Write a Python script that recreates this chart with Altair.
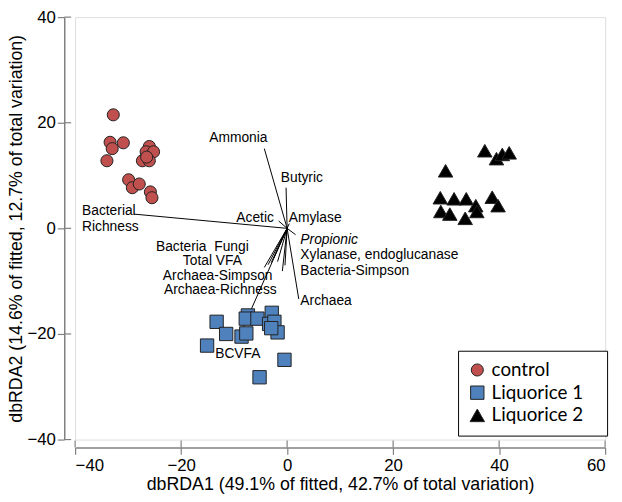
import altair as alt
import pandas as pd

# ---- sample scores (dbRDA1, dbRDA2) ----
ctrl_x = [-32.8, -33.4, -33.0, -30.9, -34.0, -26.0, -26.6, -25.2, -27.3, -26.0, -26.5, -29.9, -29.2, -27.9, -25.8, -25.5]
ctrl_y = [21.5, 16.3, 15.1, 16.2, 12.8, 15.5, 14.5, 14.5, 12.8, 12.8, 13.5, 9.2, 7.7, 8.4, 6.9, 5.8]
liq1_x = [-13.3, -11.5, -15.1, -8.6, -7.7, -7.4, -7.8, -5.6, -2.9, -3.4, -2.4, -1.8, -3.0, -0.5, -5.2]
liq1_y = [-17.7, -20.0, -22.2, -20.5, -19.9, -16.5, -17.1, -17.1, -16.0, -18.1, -17.7, -19.7, -18.9, -24.9, -28.2]
liq2_x = [37.3, 39.5, 40.6, 41.9, 29.9, 28.9, 31.5, 33.8, 35.6, 38.7, 39.8, 29.0, 30.7, 33.6, 35.8]
liq2_y = [14.7, 13.2, 14.0, 14.3, 10.9, 5.8, 5.6, 5.6, 4.3, 5.9, 4.3, 3.2, 2.7, 1.9, 3.2]

groups = ["control", "Liquorice 1", "Liquorice 2"]
group_colors = ["#C0504D", "#4F81BD", "#000000"]
group_shapes = ["circle", "square", "triangle-up"]
group_sizes = [150, 215, 230]

# ---- axis ticks ----
x_ticks = [-40, -20, 0, 20, 40, 60]
y_ticks = [-40, -20, 0, 20, 40]

# ---- vectors (end points) ----
vec_names = ["Bacterial Richness", "Ammonia", "Butyric", "Acetic", "Amylase", "Propionic",
             "Xylanase, endoglucanase", "Bacteria-Simpson", "Archaea", "Bacteria", "Fungi",
             "Total VFA", "Archaea-Simpson", "Archaea-Richness", "BCVFA"]
vec_x = [-28.9, -4.3, -0.2, -1.6, 0.4, 1.6, -0.9, -0.4, 2.2, -2.5, -1.8, -3.0, -4.3, -3.6, -9.1]
vec_y = [2.7, 15.1, 7.7, 1.4, 0.9, -1.2, -8.1, -7.0, -13.4, -5.6, -6.3, -6.5, -7.4, -6.9, -20.6]

# ---- vector labels ----
lab_text = ["Ammonia", "Butyric", "Bacterial", "Richness", "Acetic", "Amylase", "Propionic",
            "Xylanase, endoglucanase", "Bacteria-Simpson", "Archaea", "Bacteria\u00a0\u00a0Fungi",
            "Total VFA", "Archaea-Simpson", "Archaea-Richness", "BCVFA"]
lab_x = [-9.2, -1.2, -38.7, -38.7, -2.5, 0.3, 2.5, 2.5, 2.5, 2.5, -16.0, -14.1, -13.1, -12.6, -9.3]
lab_y = [17.1, 9.5, 3.3, 0.2, 2.0, 2.0, -2.2, -5.0, -8.0, -13.7, -3.5, -6.1, -9.1, -11.7, -23.9]
lab_align = ["center", "left", "left", "left", "right", "left", "left",
             "left", "left", "left", "center", "center", "center", "center", "center"]
lab_style = ["normal"] * 6 + ["italic"] + ["normal"] * 8

pts = pd.DataFrame({
    "x": ctrl_x + liq1_x + liq2_x,
    "y": ctrl_y + liq1_y + liq2_y,
    "group": ["control"] * len(ctrl_x) + ["Liquorice 1"] * len(liq1_x) + ["Liquorice 2"] * len(liq2_x),
})
vec = pd.DataFrame({"name": vec_names, "x0": [0.0] * len(vec_x), "y0": [0.0] * len(vec_y),
                    "x": vec_x, "y": vec_y})
labs = pd.DataFrame({"text": lab_text, "x": lab_x, "y": lab_y, "align": lab_align, "style": lab_style})

W, H = 537, 428
FONT = "Liberation Sans"
AXC = "#808080"
xscale = alt.Scale(domain=[-40, 60], nice=False, zero=False)
yscale = alt.Scale(domain=[-40, 40], nice=False, zero=False)

xaxis = alt.Axis(values=x_ticks, offset=8, grid=False,
                 domainColor=AXC, domainWidth=1.5, tickColor=AXC, tickWidth=1.2, tickSize=7,
                 labelFont=FONT, labelFontSize=17, labelColor="black", labelPadding=3,
                 titleFont=FONT, titleFontSize=18, titleFontWeight="normal", titleColor="black",
                 titlePadding=3)
yaxis = alt.Axis(values=y_ticks, offset=11, grid=False,
                 domainColor=AXC, domainWidth=1.5, tickColor=AXC, tickWidth=1.2, tickSize=7,
                 labelFont=FONT, labelFontSize=17, labelColor="black", labelPadding=2,
                 titleFont=FONT, titleFontSize=18, titleFontWeight="normal", titleColor="black",
                 titlePadding=1)

legend = alt.Legend(title=None, orient="none", legendX=388, legendY=338,
                    strokeColor="black", fillColor="white", padding=10,
                    labelFont="Lato", labelFontSize=19, labelColor="black", labelOffset=5,
                    symbolSize=110, symbolStrokeColor="#222", symbolStrokeWidth=1,
                    rowPadding=3, labelExpr="datum.label + '\u2800'")

points = alt.Chart(pts).mark_point(filled=True, opacity=1, strokeWidth=1).encode(
    x=alt.X("x:Q", scale=xscale, axis=xaxis, title="dbRDA1 (49.1% of fitted, 42.7% of total variation)"),
    y=alt.Y("y:Q", scale=yscale, axis=yaxis, title="dbRDA2 (14.6% of fitted, 12.7% of total variation)"),
    color=alt.Color("group:N", scale=alt.Scale(domain=groups, range=group_colors), legend=legend),
    shape=alt.Shape("group:N", scale=alt.Scale(domain=groups, range=group_shapes), legend=legend),
    size=alt.Size("group:N", scale=alt.Scale(domain=groups, range=group_sizes), legend=None),
    stroke=alt.value("#222"),
)

rules = alt.Chart(vec).mark_rule(color="black", strokeWidth=1).encode(
    x=alt.X("x0:Q", scale=xscale), y=alt.Y("y0:Q", scale=yscale),
    x2="x:Q", y2="y:Q",
)

# inner halves of the axis ticks (ticks cross the axis lines)
ystubs = alt.Chart(pd.DataFrame({"v": y_ticks})).mark_rule(color=AXC, strokeWidth=1.2).encode(
    y=alt.Y("v:Q", scale=yscale), x=alt.value(-11), x2=alt.value(-4))
xstubs = alt.Chart(pd.DataFrame({"v": x_ticks})).mark_rule(color=AXC, strokeWidth=1.2).encode(
    x=alt.X("v:Q", scale=xscale), y=alt.value(H + 8), y2=alt.value(H + 1))


def text_layer(align, style):
    d = labs[(labs["align"] == align) & (labs["style"] == style)]
    return alt.Chart(d).mark_text(align=align, baseline="middle", font=FONT, fontSize=14,
                                  fontStyle=style, color="black").encode(
        x=alt.X("x:Q", scale=xscale), y=alt.Y("y:Q", scale=yscale), text="text:N")


texts = [text_layer("left", "normal"), text_layer("center", "normal"),
         text_layer("right", "normal"), text_layer("left", "italic")]

chart = alt.layer(ystubs, xstubs, rules, points, *texts).properties(
    width=W, height=H,
    autosize=alt.AutoSizeParams(type="none"),
    padding={"left": 68, "top": 6, "right": 9, "bottom": 60},
).configure_view(stroke=None).configure(background="white")

chart.save("out.html", embed_options={"renderer": "svg", "actions": False})
